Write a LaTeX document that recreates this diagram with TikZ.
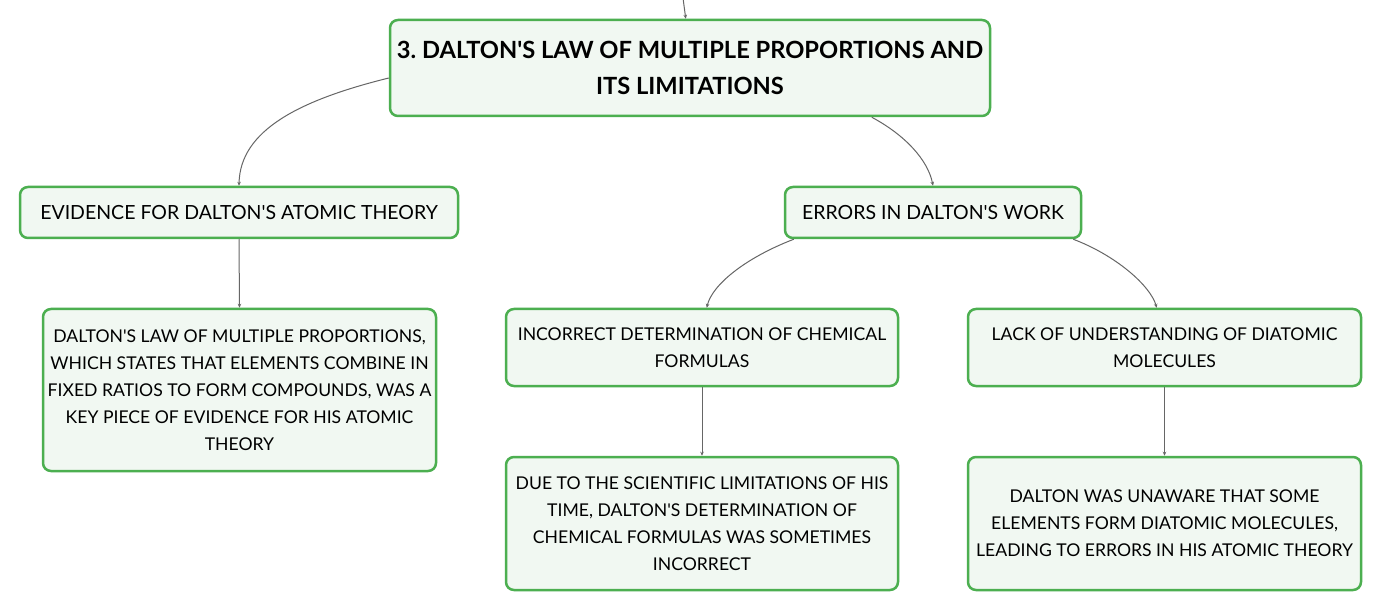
\documentclass[tikz,border=0pt]{standalone}
\usepackage{fontspec}
\setmainfont{Lato}[Ligatures=TeXOff]
\usetikzlibrary{calc,arrows.meta}
\definecolor{bx}{HTML}{4CAF50}
\definecolor{fl}{HTML}{F1F8F2}
\definecolor{ln}{HTML}{666666}
\begin{document}
\begin{tikzpicture}[x=1pt,y=-1pt,
 box/.style={draw=bx,fill=fl,line width=2.5pt,rounded corners=8pt,align=center,inner sep=0pt,font=\fontsize{17.6}{27}\selectfont},
 sub/.style={box,font=\fontsize{19.5}{27}\selectfont},
 conn/.style={draw=ln,line width=1pt,-{Stealth[length=4pt,width=3.5pt]}}]
\useasboundingbox[fill=white] (0,0) rectangle (1382,612);
\node[box,minimum width=600pt,minimum height=96pt,font=\bfseries\fontsize{23.7}{36}\selectfont] (title) at (690,68) {3.\ DALTON'S LAW OF MULTIPLE PROPORTIONS AND\\ITS LIMITATIONS};
\node[sub,minimum width=438pt,minimum height=51pt] (evid) at (239,212.5) {EVIDENCE FOR DALTON'S ATOMIC THEORY};
\node[sub,minimum width=296pt,minimum height=51pt] (err) at (933,212.5) {ERRORS IN DALTON'S WORK};
\node[box,minimum width=393pt,minimum height=162pt] (law) at (239.5,390) {DALTON'S LAW OF MULTIPLE PROPORTIONS,\\WHICH STATES THAT ELEMENTS COMBINE IN\\FIXED RATIOS TO FORM COMPOUNDS, WAS A\\KEY PIECE OF EVIDENCE FOR HIS ATOMIC\\THEORY};
\node[box,minimum width=392pt,minimum height=77pt] (inc) at (702,347.5) {INCORRECT DETERMINATION OF CHEMICAL\\FORMULAS};
\node[box,minimum width=393pt,minimum height=77pt] (lack) at (1164.5,347.5) {LACK OF UNDERSTANDING OF DIATOMIC\\MOLECULES};
\node[box,minimum width=392pt,minimum height=133pt] (due) at (702,523.5) {DUE TO THE SCIENTIFIC LIMITATIONS OF HIS\\TIME, DALTON'S DETERMINATION OF\\CHEMICAL FORMULAS WAS SOMETIMES\\INCORRECT};
\node[box,minimum width=393pt,minimum height=133pt] (unaw) at (1164.5,523.5) {DALTON WAS UNAWARE THAT SOME\\ELEMENTS FORM DIATOMIC MOLECULES,\\LEADING TO ERRORS IN HIS ATOMIC THEORY};
\coordinate (top) at (683,-2);
\draw[conn] (top) -- ($(title.north west)+(297,0)$);
\draw[conn] ($(title.west)+(0,10)$) .. controls (300,100) and (240,130) .. (evid.north);
\draw[conn] ($(title.south west)+(483,0)$) .. controls (905,135) and (928,160) .. (err.north);
\draw[conn] (evid.south) -- (law.north);
\draw[conn] ($(err.south west)+(10,0)$) .. controls (745,258) and (712,285) .. ($(inc.north west)+(202,0)$);
\draw[conn] ($(err.south east)+(-9,0)$) .. controls (1115,255) and (1150,285) .. ($(lack.north west)+(190,0)$);
\draw[conn] (inc.south) -- (due.north);
\draw[conn] (lack.south) -- (unaw.north);
\end{tikzpicture}
\end{document}
